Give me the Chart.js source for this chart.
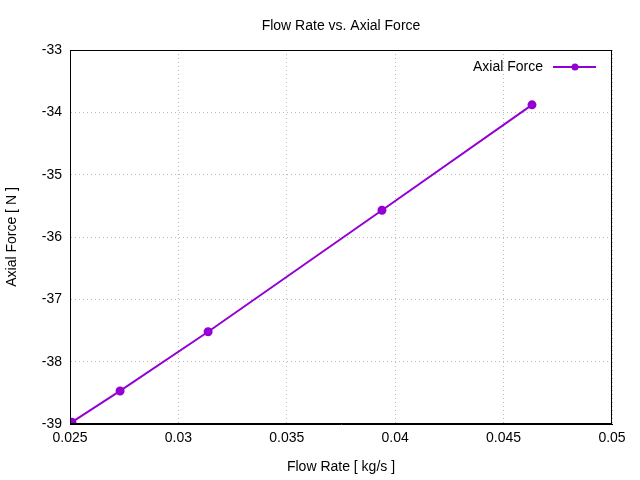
<!DOCTYPE html>
<html><head><meta charset="utf-8">
<script src="https://cdn.jsdelivr.net/npm/chart.js@4"></script>
<style>html,body{margin:0;padding:0;background:#fff}#w{width:640px;height:480px}</style>
</head><body><div id="w"><canvas id="c"></canvas></div>
<script>
const flowRate = [0.02509, 0.02731, 0.03137, 0.03939, 0.04631];
const axialForce = [-38.97, -38.47, -37.52, -35.57, -33.88];
const seriesName = 'Axial Force';
const chartTitle = 'Flow Rate vs. Axial Force';
const xTicks = [0.025, 0.03, 0.035, 0.04, 0.045, 0.05];
const yTicks = [-39, -38, -37, -36, -35, -34, -33];
const color = '#9400d3';
const font = {family: 'Liberation Sans, Arial, sans-serif', size: 14};

const legendPlugin = {
  id: 'inLegend',
  afterDatasetsDraw(chart) {
    const ctx = chart.ctx, a = chart.chartArea;
    const y = a.top + 17, xr = a.right - 16;
    ctx.save();
    ctx.font = '14px Liberation Sans, Arial, sans-serif';
    ctx.fillStyle = '#000'; ctx.textAlign = 'right'; ctx.textBaseline = 'middle';
    ctx.fillText(seriesName, xr - 53, y);
    ctx.textAlign = 'center';
    ctx.fillText(chartTitle, (a.left + a.right) / 2, 26);
    ctx.strokeStyle = color; ctx.lineWidth = 2;
    ctx.beginPath(); ctx.moveTo(xr - 43, y); ctx.lineTo(xr, y); ctx.stroke();
    ctx.fillStyle = color; ctx.beginPath(); ctx.arc(xr - 21, y, 3.5, 0, Math.PI*2); ctx.fill();
    ctx.restore();
  }
};

new Chart(document.getElementById('c'), {
  type: 'scatter',
  data: { datasets: [{
    label: seriesName,
    data: flowRate.map((x, i) => ({x, y: axialForce[i]})),
    showLine: true, borderColor: color, backgroundColor: color,
    borderWidth: 2, pointRadius: 3.5, pointHoverRadius: 3.5
  }]},
  options: {
    responsive: true, maintainAspectRatio: false, animation: false,
    layout: {padding: {left: 0, right: 28, top: 50, bottom: 0}},
    plugins: { legend: {display: false}, tooltip: {enabled: false}, title: {display: false} },
    scales: {
      x: {
        type: 'linear', min: 0.025, max: 0.05,
        afterBuildTicks: s => { s.ticks = xTicks.map(v => ({value: v})); },
        afterFit: s => { s.height = 56; },
        ticks: {color: '#000', font, padding: 6, callback: v => String(+v.toFixed(3))},
        grid: {color: '#bbbbbb', tickLength: 0},
        border: {color: '#000', width: 1, dash: [1, 3]},
        title: {display: true, text: 'Flow Rate [ kg/s ]', color: '#000', font, padding: {top: 6}}
      },
      y: {
        min: -39, max: -33,
        afterBuildTicks: s => { s.ticks = yTicks.map(v => ({value: v})); },
        afterFit: s => { s.width = 70; },
        ticks: {color: '#000', font, padding: 8},
        grid: {color: '#bbbbbb', tickLength: 0},
        border: {color: '#000', width: 1, dash: [1, 3]},
        title: {display: true, text: 'Axial Force [ N ]', color: '#000', font, padding: {bottom: 2}}
      }
    }
  },
  plugins: [legendPlugin, {
    id: 'frame',
    afterDraw(chart) {
      const c = chart.ctx, a = chart.chartArea;
      c.save(); c.strokeStyle = '#000'; c.lineWidth = 1;
      c.strokeRect(a.left + 0.5, a.top + 0.5, a.right - a.left - 1, a.bottom - a.top - 1);
      c.restore();
    }
  }]
});
</script></body></html>
